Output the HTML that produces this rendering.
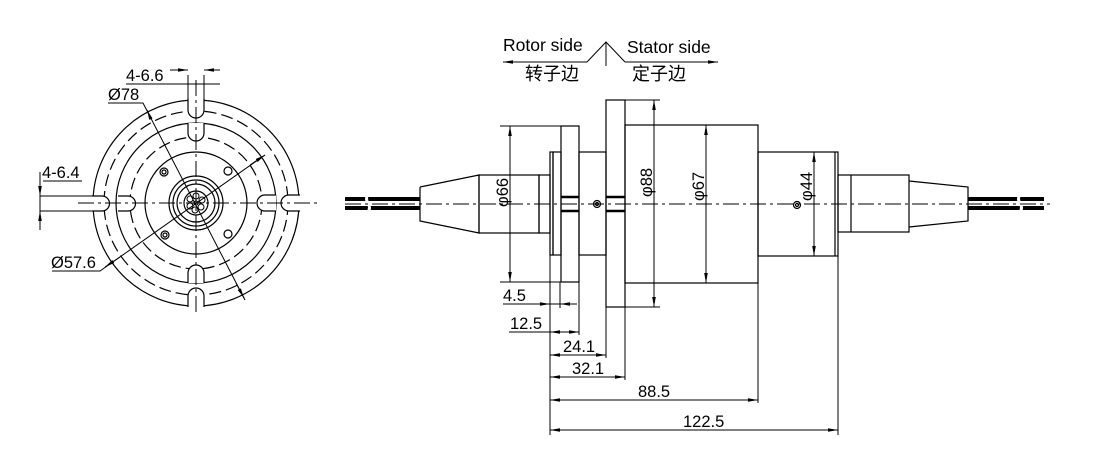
<!DOCTYPE html>
<html><head><meta charset="utf-8"><style>
html,body{margin:0;padding:0;background:#fff;}
svg{display:block;}
text{font-family:"Liberation Sans","Noto Sans CJK SC",sans-serif;font-size:16.5px;fill:#000;}
</style></head><body>
<svg width="1098" height="467" viewBox="0 0 1098 467" xmlns="http://www.w3.org/2000/svg">
<defs>
<marker id="a" markerWidth="10" markerHeight="6" refX="10" refY="3" orient="auto-start-reverse" markerUnits="userSpaceOnUse"><path d="M0,1.2 L10,3 L0,4.8z" fill="#000"/></marker>
</defs>
<g fill="none" stroke="#000" stroke-width="1.2">
<circle cx="196" cy="203" r="103"/>
<circle cx="196" cy="203" r="92" stroke-dasharray="12,5"/>
<circle cx="196" cy="203" r="80"/>
<circle cx="196" cy="203" r="66" stroke-dasharray="12,5"/>
<circle cx="196" cy="203" r="51"/>
<circle cx="196" cy="203" r="27"/>
<circle cx="196" cy="203" r="23"/>
<circle cx="196" cy="203" r="19"/>
<circle cx="196" cy="203" r="12"/>
<g stroke-width="1">
<circle cx="196" cy="196" r="3"/><circle cx="202" cy="200" r="3"/><circle cx="201" cy="207" r="3"/><circle cx="195" cy="210" r="3"/><circle cx="190" cy="206" r="3"/><circle cx="190" cy="199" r="3"/><circle cx="196" cy="203" r="2"/>
</g>
<circle cx="164" cy="172" r="4"/><circle cx="164" cy="172" r="2"/>
<circle cx="228" cy="171" r="4"/>
<circle cx="165" cy="235" r="4"/><circle cx="165" cy="235" r="2"/>
<circle cx="228" cy="234" r="4"/>
</g>
<g fill="#fff" stroke="#000" stroke-width="1.2">
<path d="M188,99 L188,110 A8,8 0 0 0 204,110 L204,99"/>
<path d="M188,123 L188,133 A8,8 0 0 0 204,133 L204,123"/>
<path d="M188,307 L188,296 A8,8 0 0 1 204,296 L204,307"/>
<path d="M188,283 L188,273 A8,8 0 0 1 204,273 L204,283"/>
<path d="M300,195 L289,195 A8,8 0 0 0 289,211 L300,211"/>
<path d="M276,195 L265,195 A8,8 0 0 0 265,211 L276,211"/>
<path d="M92,196 L102,196 A7.5,7.5 0 0 1 102,211 L92,211"/>
<path d="M118,196 L128,196 A7.5,7.5 0 0 1 128,211 L118,211"/>
</g>
<g fill="none" stroke="#000" stroke-width="1">
<line x1="40" y1="196" x2="92" y2="196"/><line x1="40" y1="211" x2="92" y2="211"/>
<line x1="188" y1="75" x2="188" y2="99"/><line x1="204" y1="75" x2="204" y2="99"/>
<line x1="78" y1="203" x2="318" y2="203" stroke-dasharray="16,4,3,4"/>
<line x1="196" y1="80" x2="196" y2="312" stroke-dasharray="16,4,3,4"/>
<polyline points="108,103 143,103 245,300"/>
<polyline points="52,271 100,271 265,155"/>
<path d="M265,155 L250,165" marker-start="url(#a)"/>
<path d="M105,267 L120,257" marker-start="url(#a)"/>
<path d="M150,117 L147,110" marker-end="url(#a)"/>
<path d="M236,283 L244,298" marker-end="url(#a)"/>
<line x1="126" y1="84" x2="220" y2="84"/>
<path d="M170,70 L188,70" marker-end="url(#a)"/><path d="M220,70 L204,70" marker-end="url(#a)"/>
<line x1="43" y1="181" x2="82" y2="181"/>
<line x1="40" y1="172" x2="40" y2="230"/>
<path d="M40,178 L40,196" marker-end="url(#a)"/><path d="M40,228 L40,211" marker-end="url(#a)"/>
</g>
<text x="126" y="81">4-6.6</text>
<text x="108" y="100">Ø78</text>
<text x="42" y="178">4-6.4</text>
<text x="51" y="268">Ø57.6</text>

<g fill="none" stroke="#000" stroke-width="1.2">
<polyline points="420,187 479,175 479,233 420,221 420,187"/>
<rect x="479" y="175" width="60" height="58"/>
<rect x="539" y="175" width="11" height="58"/>
<rect x="550" y="152" width="3" height="103"/>
<rect x="553" y="152" width="8" height="103"/>
<rect x="561" y="126" width="18" height="156"/>
<rect x="579" y="152" width="27" height="103"/>
<rect x="606" y="100" width="19" height="207"/>
<rect x="625" y="125" width="133" height="158"/>
<rect x="758" y="152" width="80" height="104"/>
<line x1="835" y1="152" x2="835" y2="256"/>
<rect x="838" y="175" width="71" height="57"/>
<line x1="851" y1="175" x2="851" y2="232"/>
<polyline points="909,181 968,187 968,221 909,227"/>
<circle cx="597" cy="204" r="3.5"/><circle cx="597" cy="204" r="1.5"/>
<circle cx="797" cy="205" r="3.5"/><circle cx="797" cy="205" r="1.5"/>
</g>
<g stroke="#000" stroke-width="2.5">
<line x1="561" y1="197" x2="579" y2="197"/><line x1="561" y1="211" x2="579" y2="211"/>
<line x1="606" y1="197" x2="625" y2="197"/><line x1="606" y1="211" x2="625" y2="211"/>
</g>
<g stroke="#000" stroke-width="4">
<line x1="345" y1="199" x2="420" y2="199"/><line x1="345" y1="208" x2="420" y2="208"/>
<line x1="968" y1="199" x2="1044" y2="199"/><line x1="968" y1="208" x2="1044" y2="208"/>
</g>
<g stroke="#fff" stroke-width="3" fill="none">
<path d="M368,194 q-3,5 0,9 q3,5 0,9"/><path d="M1020,194 q-3,5 0,9 q3,5 0,9"/>
</g>
<g fill="none" stroke="#000" stroke-width="1">
<line x1="345" y1="204" x2="1050" y2="204" stroke-dasharray="16,4,3,4"/>
<line x1="500" y1="126" x2="561" y2="126"/><line x1="500" y1="282" x2="561" y2="282"/>
<line x1="510" y1="126" x2="510" y2="282" marker-start="url(#a)" marker-end="url(#a)"/>
<line x1="625" y1="100" x2="660" y2="100"/><line x1="625" y1="307" x2="660" y2="307"/>
<line x1="654" y1="100" x2="654" y2="307" marker-start="url(#a)" marker-end="url(#a)"/>
<line x1="706" y1="125" x2="706" y2="283" marker-start="url(#a)" marker-end="url(#a)"/>
<line x1="814" y1="152" x2="814" y2="256" marker-start="url(#a)" marker-end="url(#a)"/>
<line x1="550" y1="255" x2="550" y2="435"/>
<line x1="560" y1="282" x2="560" y2="308"/>
<line x1="579" y1="282" x2="579" y2="335"/>
<line x1="606" y1="307" x2="606" y2="358"/>
<line x1="625" y1="307" x2="625" y2="380"/>
<line x1="758" y1="283" x2="758" y2="403"/>
<line x1="838" y1="256" x2="838" y2="435"/>
<line x1="503" y1="304" x2="577" y2="304"/>
<path d="M538,304 L550,304" marker-end="url(#a)"/><path d="M572,304 L560,304" marker-end="url(#a)"/>
<line x1="509" y1="332" x2="550" y2="332"/>
<line x1="550" y1="332" x2="579" y2="332" marker-start="url(#a)" marker-end="url(#a)"/>
<line x1="550" y1="355" x2="606" y2="355" marker-start="url(#a)" marker-end="url(#a)"/>
<line x1="550" y1="377" x2="625" y2="377" marker-start="url(#a)" marker-end="url(#a)"/>
<line x1="550" y1="400" x2="758" y2="400" marker-start="url(#a)" marker-end="url(#a)"/>
<line x1="550" y1="430" x2="838" y2="430" marker-start="url(#a)" marker-end="url(#a)"/>
<polyline points="587,62 606,42 625,62"/>
<line x1="606" y1="42" x2="606" y2="66"/>
<line x1="587" y1="62" x2="503" y2="62" marker-end="url(#a)"/>
<line x1="625" y1="62" x2="718" y2="62" marker-end="url(#a)"/>
</g>
<text x="503" y="51" style="font-size:17.5px">Rotor side</text>
<text x="627" y="53" style="font-size:17.5px">Stator side</text>
<text x="525" y="80" style="font-size:18px">转子边</text>
<text x="632" y="80" style="font-size:18px">定子边</text>
<text x="503" y="301">4.5</text>
<text x="510" y="329">12.5</text>
<text x="563" y="352">24.1</text>
<text x="572" y="374">32.1</text>
<text x="638" y="397">88.5</text>
<text x="683" y="427">122.5</text>
<text transform="translate(508,207) rotate(-90)">φ66</text>
<text transform="translate(652,197) rotate(-90)">φ88</text>
<text transform="translate(704,201) rotate(-90)">φ67</text>
<text transform="translate(812,201) rotate(-90)">φ44</text>
</svg>
</body></html>
